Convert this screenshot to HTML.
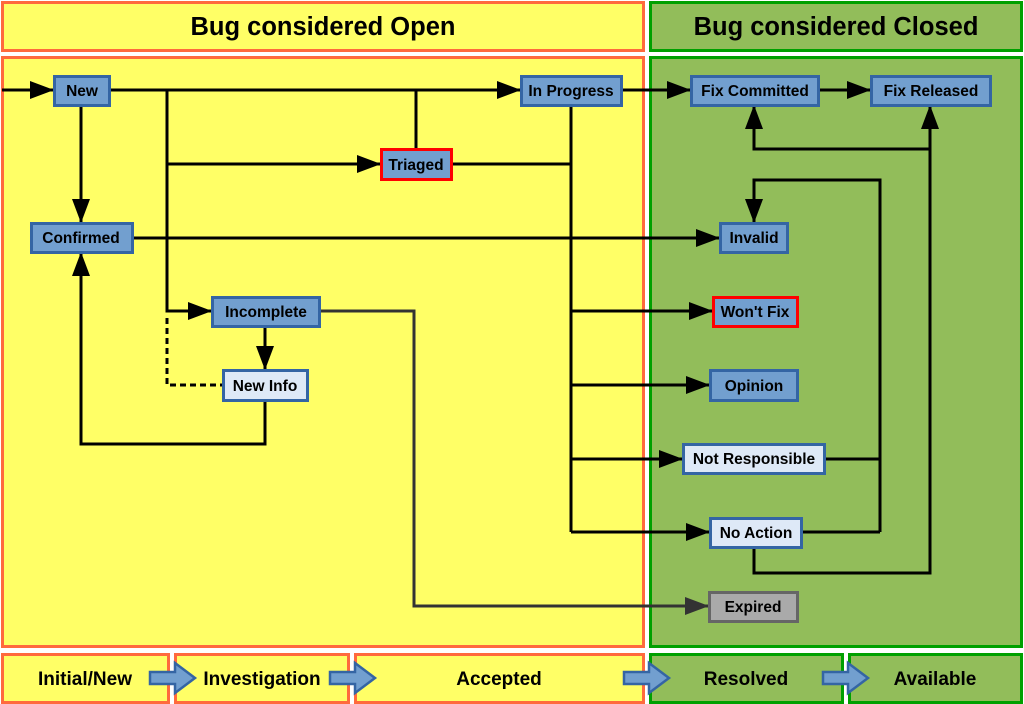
<!DOCTYPE html>
<html><head><style>body{margin:0;background:#fff}svg{display:block}text{font-family:"Liberation Sans",sans-serif;font-weight:bold}</style></head><body>
<svg width="1024" height="704" viewBox="0 0 1024 704" xmlns="http://www.w3.org/2000/svg">
<defs><marker id="a" markerWidth="8" markerHeight="6" refX="8" refY="3" orient="auto" markerUnits="strokeWidth"><path d="M0,0L8,3L0,6z" fill="#000"/></marker>
<marker id="g" markerWidth="8" markerHeight="6" refX="8" refY="3" orient="auto" markerUnits="strokeWidth"><path d="M0,0L8,3L0,6z" fill="#333"/></marker></defs>
<g stroke-width="3">
<rect x="2.5" y="2.5" width="641" height="48" fill="#ffff66" stroke="#ff6a3d"/>
<rect x="650.5" y="2.5" width="371" height="48" fill="#92bd5a" stroke="#00a000"/>
<rect x="2.5" y="57.5" width="641" height="589" fill="#ffff66" stroke="#ff6a3d"/>
<rect x="650.5" y="57.5" width="371" height="589" fill="#92bd5a" stroke="#00a000"/>
<rect x="2.5" y="654.5" width="166" height="48" fill="#ffff66" stroke="#ff6a3d"/>
<rect x="175.5" y="654.5" width="173" height="48" fill="#ffff66" stroke="#ff6a3d"/>
<rect x="355.5" y="654.5" width="288" height="48" fill="#ffff66" stroke="#ff6a3d"/>
<rect x="650.5" y="654.5" width="192" height="48" fill="#92bd5a" stroke="#00a000"/>
<rect x="849.5" y="654.5" width="172" height="48" fill="#92bd5a" stroke="#00a000"/>
</g>
<g font-size="25.5" text-anchor="middle"><text x="323" y="35">Bug considered Open</text><text x="836" y="35">Bug considered Closed</text></g>
<g font-size="19" text-anchor="middle"><text x="85" y="685">Initial/New</text><text x="262" y="685">Investigation</text><text x="499" y="685">Accepted</text><text x="746" y="685">Resolved</text><text x="935" y="685">Available</text></g>
<g fill="#729fcf" stroke="#3465a4" stroke-width="2.5">
<path d="M150,672h25v-9l20,15l-20,15v-9h-25z"/><path d="M330,672h25v-9l20,15l-20,15v-9h-25z"/><path d="M624,672h25v-9l20,15l-20,15v-9h-25z"/><path d="M823,672h25v-9l20,15l-20,15v-9h-25z"/>
</g>
<g fill="none" stroke="#000" stroke-width="3">
<path d="M2,90H54" marker-end="url(#a)"/>
<path d="M109,90H521" marker-end="url(#a)"/>
<path d="M167,90V311H212" marker-end="url(#a)"/>
<path d="M167,318V385H223" stroke-dasharray="6,4"/>
<path d="M167,164H381" marker-end="url(#a)"/>
<path d="M416,149V90"/>
<path d="M451,164H571"/>
<path d="M571,105V532"/>
<path d="M571,311H713" marker-end="url(#a)"/>
<path d="M571,385H710" marker-end="url(#a)"/>
<path d="M571,459H683" marker-end="url(#a)"/>
<path d="M571,532H710" marker-end="url(#a)"/>
<path d="M621,90H691" marker-end="url(#a)"/>
<path d="M818,90H871" marker-end="url(#a)"/>
<path d="M81,105V223" marker-end="url(#a)"/>
<path d="M132,238H720" marker-end="url(#a)"/>
<path d="M265,326V370" marker-end="url(#a)"/>
<path d="M265,400V444H81V252" marker-end="url(#a)"/>
<path d="M319,311H414V606H709" stroke="#333" marker-end="url(#g)"/>
<path d="M930,149H754V105" marker-end="url(#a)"/>
<path d="M754,547V573H930V105" marker-end="url(#a)"/>
<path d="M880,532V180H754V223" marker-end="url(#a)"/>
<path d="M824,459H880M801,532H880"/>
</g>
<g stroke-width="3">
<rect x="54.5" y="76.5" width="55" height="29" fill="#729fcf" stroke="#3465a4"/>
<rect x="521.5" y="76.5" width="100" height="29" fill="#729fcf" stroke="#3465a4"/>
<rect x="691.5" y="76.5" width="127" height="29" fill="#729fcf" stroke="#3465a4"/>
<rect x="871.5" y="76.5" width="119" height="29" fill="#729fcf" stroke="#3465a4"/>
<rect x="381.5" y="149.5" width="70" height="30" fill="#729fcf" stroke="#ff0000"/>
<rect x="31.5" y="223.5" width="101" height="29" fill="#729fcf" stroke="#3465a4"/>
<rect x="720.5" y="223.5" width="67" height="29" fill="#729fcf" stroke="#3465a4"/>
<rect x="212.5" y="297.5" width="107" height="29" fill="#729fcf" stroke="#3465a4"/>
<rect x="713.5" y="297.5" width="84" height="29" fill="#729fcf" stroke="#ff0000"/>
<rect x="223.5" y="370.5" width="84" height="30" fill="#dee9f7" stroke="#3465a4"/>
<rect x="710.5" y="370.5" width="87" height="30" fill="#729fcf" stroke="#3465a4"/>
<rect x="683.5" y="444.5" width="141" height="29" fill="#dee9f7" stroke="#3465a4"/>
<rect x="710.5" y="518.5" width="91" height="29" fill="#dee9f7" stroke="#3465a4"/>
<rect x="709.5" y="592.5" width="88" height="29" fill="#aaaaaa" stroke="#666666"/>
</g>
<g font-size="15.5" text-anchor="middle">
<text x="82" y="96">New</text><text x="571" y="96">In Progress</text><text x="755" y="96">Fix Committed</text><text x="931" y="96">Fix Released</text>
<text x="416" y="170">Triaged</text><text x="81" y="243">Confirmed</text><text x="754" y="243">Invalid</text>
<text x="266" y="317">Incomplete</text><text x="755" y="317">Won't Fix</text><text x="265" y="391">New Info</text>
<text x="754" y="391">Opinion</text><text x="754" y="464">Not Responsible</text><text x="756" y="538">No Action</text><text x="753" y="612">Expired</text>
</g>
</svg>
</body></html>
